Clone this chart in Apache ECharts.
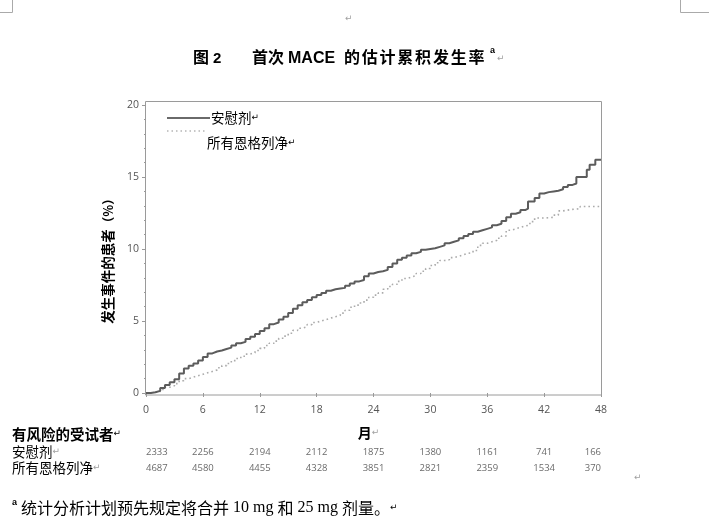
<!DOCTYPE html>
<html><head><meta charset="utf-8">
<script src="https://cdn.jsdelivr.net/npm/echarts@6/dist/echarts.min.js"></script>
<style>html,body{margin:0;padding:0;background:#fff}#c{width:709px;height:527px}</style>
</head><body><div id="c"></div>
<script>
// ---- data ----
const xTicks = [0, 6, 12, 18, 24, 30, 36, 42, 48];
const yTicks = [0, 5, 10, 15, 20];
const seriesNames = ['安慰剂', '所有恩格列净'];
const placeboCurve = [[0,0],[0.5,0.05],[1,0.15],[1.5,0.35],[2,0.55],[2.5,0.75],[3,0.95],[3.5,1.35],[4,1.7],[4.5,1.9],[5,2.05],[5.5,2.25],[6,2.5],[6.5,2.75],[7,2.88],[7.5,2.95],[8,3.05],[8.5,3.15],[9,3.3],[9.5,3.45],[10,3.55],[10.5,3.75],[11,3.9],[11.5,4.1],[12,4.3],[12.5,4.5],[13,4.78],[13.5,4.9],[14,5.1],[14.5,5.3],[15,5.55],[15.5,5.85],[16,6.1],[16.5,6.3],[17,6.45],[17.5,6.65],[18,6.8],[18.5,6.95],[19,7.1],[19.5,7.2],[20,7.25],[20.5,7.3],[21,7.45],[21.5,7.6],[22,7.75],[22.5,7.85],[23,8.1],[23.5,8.3],[24,8.4],[24.5,8.45],[25,8.55],[25.5,8.75],[26,9.0],[26.5,9.25],[27,9.4],[27.5,9.55],[28,9.7],[28.5,9.8],[29,9.95],[29.5,10.0],[30,10.05],[30.5,10.15],[31,10.25],[31.5,10.4],[32,10.5],[32.5,10.6],[33,10.75],[33.5,10.9],[34,11.05],[34.5,11.2],[35,11.3],[35.5,11.4],[36,11.5],[36.5,11.65],[37,11.75],[37.5,11.95],[38,12.2],[38.5,12.45],[39,12.55],[39.5,12.7],[40,12.8],[40.3,13.3],[41,13.55],[41.5,13.85],[42,13.95],[42.5,14.0],[43,14.05],[43.5,14.15],[44,14.3],[44.5,14.45],[45,14.55],[45.4,15.0],[46.5,15.5],[46.8,15.85],[47.4,16.2],[48,16.2]];
const ertuCurve = [[0,0],[0.5,0.05],[1,0.1],[1.5,0.25],[2,0.4],[2.5,0.5],[3,0.65],[3.5,0.85],[4,1.0],[4.5,1.1],[5,1.2],[5.5,1.3],[6,1.4],[6.5,1.5],[7,1.6],[7.5,1.75],[8,1.9],[8.5,2.05],[9,2.25],[9.5,2.4],[10,2.55],[10.5,2.7],[11,2.8],[11.5,2.95],[12,3.1],[12.5,3.3],[13,3.45],[13.5,3.6],[14,3.8],[14.5,3.95],[15,4.15],[15.5,4.35],[16,4.5],[16.5,4.6],[17,4.75],[17.5,4.9],[18,5.0],[18.5,5.1],[19,5.2],[19.5,5.3],[20,5.4],[20.5,5.55],[21,5.75],[21.5,5.95],[22,6.1],[22.5,6.25],[23,6.45],[23.5,6.65],[24,6.8],[24.5,6.95],[25,7.2],[25.5,7.4],[26,7.55],[26.5,7.75],[27,7.95],[27.5,8.05],[28,8.15],[28.5,8.3],[29,8.45],[29.5,8.65],[30,8.85],[30.5,9.05],[31,9.2],[31.5,9.25],[32,9.4],[32.5,9.5],[33,9.6],[33.5,9.7],[34,9.75],[34.5,9.9],[35,10.25],[35.5,10.4],[36,10.5],[36.5,10.6],[37,10.75],[37.5,10.9],[38,11.3],[38.5,11.4],[39,11.5],[39.5,11.6],[40,11.65],[40.5,11.9],[41,12.15],[42,12.2],[43,12.35],[43.5,12.65],[44,12.75],[45,12.8],[45.8,12.95],[48,12.95]];
const atRiskMonths = [0, 6, 12, 18, 24, 30, 36, 42, 48];
const placeboAtRisk = [2333, 2256, 2194, 2112, 1875, 1380, 1161, 741, 166];
const ertuAtRisk = [4687, 4580, 4455, 4328, 3851, 2821, 2359, 1534, 370];

// ---- chart ----
const CJK = '"Noto Sans CJK SC", "Noto Sans", sans-serif';
const LAT = '"Liberation Sans", Arial, sans-serif';
const SERIF = '"Liberation Serif", "DejaVu Serif", serif';
const MARK = '#a0a0a0';
const chart = echarts.init(document.getElementById('c'), null, {renderer: 'canvas'});

function atRiskData(vals, row) {
  return atRiskMonths.map((m, i) => ({
    value: [m, row, vals[i]],
    label: {align: i === 0 ? 'left' : (i === atRiskMonths.length - 1 ? 'right' : 'center')}
  }));
}
function spaced(str, key) { return str.split('').map(ch => '{' + key + '|' + ch + '}').join(''); }

const option = {
  animation: false,
  backgroundColor: '#fff',
  grid: [
    {left: 146, right: 108, top: 105, bottom: 134},
    {left: 146, right: 108, top: 444, height: 32}
  ],
  xAxis: [
    {type: 'value', gridIndex: 0, min: 0, max: 48, interval: 6, offset: 2,
     name: '{b|月}{m|↵}', nameLocation: 'middle', nameGap: 31,
     nameTextStyle: {padding: [0, 10, 0, 0], rich: {b: {fontFamily: CJK, fontWeight: 'bold', fontSize: 14, color: '#000'}, m: {fontFamily: '"DejaVu Sans"', fontSize: 9, color: MARK}}},
     axisLine: {show: false},
     axisTick: {show: true, length: 4, lineStyle: {color: '#999'}},
     axisLabel: {color: '#555', fontSize: 10.5, fontFamily: '"Open Sans", sans-serif', margin: 10},
     splitLine: {show: false}},
    {type: 'value', gridIndex: 1, min: 0, max: 48, show: false}
  ],
  yAxis: [
    {type: 'value', gridIndex: 0, min: 0, max: 20, interval: 5, offset: 1,
     axisLine: {show: false},
     axisTick: {show: true, length: 4, lineStyle: {color: '#999'}},
     minorTick: {show: true, splitNumber: 5, length: 2, lineStyle: {color: '#999'}},
     axisLabel: {color: '#555', fontSize: 10.5, fontFamily: '"Open Sans", sans-serif', margin: 6},
     splitLine: {show: false}, minorSplitLine: {show: false}},
    {type: 'category', gridIndex: 1, inverse: true, data: seriesNames,
     axisLine: {show: false}, axisTick: {show: false},
     axisLabel: {align: 'left', margin: 134, formatter: v => '{t|' + v + '}{m|↵}',
       rich: {t: {fontFamily: CJK, fontSize: 13.5, color: '#000'}, m: {fontFamily: '"DejaVu Sans"', fontSize: 9, color: MARK}}}}
  ],
  series: [
    {name: seriesNames[0], type: 'line', xAxisIndex: 0, yAxisIndex: 0, step: 'end', showSymbol: false, symbol: 'none',
     data: placeboCurve, lineStyle: {color: '#5c5c5c', width: 2}, z: 3},
    {name: seriesNames[1], type: 'line', xAxisIndex: 0, yAxisIndex: 0, step: 'end', showSymbol: false, symbol: 'none',
     data: ertuCurve, lineStyle: {color: '#ababab', width: 1.6, type: [1.6, 3]}, z: 2},
    {type: 'scatter', xAxisIndex: 1, yAxisIndex: 1, symbolSize: 0, silent: true,
     data: atRiskData(placeboAtRisk, 0),
     label: {show: true, position: 'inside', formatter: p => String(p.value[2]), color: '#444', fontSize: 9.5, fontFamily: '"Open Sans", sans-serif'}},
    {type: 'scatter', xAxisIndex: 1, yAxisIndex: 1, symbolSize: 0, silent: true,
     data: atRiskData(ertuAtRisk, 1),
     label: {show: true, position: 'inside', formatter: p => String(p.value[2]), color: '#444', fontSize: 9.5, fontFamily: '"Open Sans", sans-serif'}}
  ],
  graphic: [
    // page corner marks
    {type: 'polyline', shape: {points: [[0, 12.5], [12.5, 12.5], [12.5, 0]]}, style: {stroke: '#aaa', lineWidth: 1, fill: null}},
    {type: 'polyline', shape: {points: [[680.5, 0], [680.5, 12.5], [709, 12.5]]}, style: {stroke: '#aaa', lineWidth: 1, fill: null}},
    {type: 'text', left: 345, top: 14, style: {text: '↵', font: '9px "DejaVu Sans"', fill: MARK}},
    // title
    {type: 'text', x: 193, y: 57, style: {text: '图', font: 'bold 16px ' + CJK, fill: '#000', textVerticalAlign: 'middle'}},
    {type: 'text', x: 213, y: 58.5, style: {text: '2', font: 'bold 15px ' + LAT, fill: '#000', textVerticalAlign: 'middle'}},
    {type: 'text', x: 252, y: 57, style: {text: '首次', font: 'bold 16px ' + CJK, fill: '#000', textVerticalAlign: 'middle'}},
    {type: 'text', x: 288, y: 58.5, style: {text: 'MACE', font: 'bold 16px ' + LAT, fill: '#000', textVerticalAlign: 'middle'}},
    {type: 'text', x: 343, y: 57, style: {text: spaced('的估计累积发生率', 'c'), textVerticalAlign: 'middle',
      rich: {c: {fontFamily: CJK, fontWeight: 'bold', fontSize: 16, color: '#000', padding: [0, 0.9, 0, 0.9]}}}},
    {type: 'text', x: 490, y: 51, style: {text: 'a', font: 'bold 9px ' + LAT, fill: '#000', textVerticalAlign: 'middle'}},
    {type: 'text', x: 497, y: 59, style: {text: '↵', font: '9px "DejaVu Sans"', fill: MARK, textVerticalAlign: 'middle'}},
    // y-axis title
    {type: 'text', x: 108, y: 258, rotation: Math.PI / 2,
     style: {text: '{b|发生事件的患者}{p|（%）}', align: 'center', verticalAlign: 'middle',
      rich: {b: {fontFamily: CJK, fontWeight: 'bold', fontSize: 13.5, color: '#000'}, p: {fontFamily: CJK, fontWeight: 'bold', fontSize: 12.5, color: '#000'}}}},
    // plot frame
    {type: 'rect', shape: {x: 145.5, y: 101.5, width: 456, height: 293.5}, style: {fill: null, stroke: '#9a9a9a', lineWidth: 1}, z: 1},
    // legend inside plot
    {type: 'line', shape: {x1: 167, y1: 118, x2: 210, y2: 118}, style: {stroke: '#6a6a6a', lineWidth: 2}},
    {type: 'text', x: 211, y: 118, style: {text: '{t|安慰剂}{m|↵}', textVerticalAlign: 'middle',
      rich: {t: {fontFamily: CJK, fontSize: 13.5, color: '#000'}, m: {fontFamily: '"DejaVu Sans"', fontSize: 9, color: MARK}}}},
    {type: 'line', shape: {x1: 167, y1: 131, x2: 205, y2: 131}, style: {stroke: '#b5b5b5', lineWidth: 1.5, lineDash: [1.5, 3]}},
    {type: 'text', x: 207, y: 143, style: {text: '{t|所有恩格列净}{m|↵}', textVerticalAlign: 'middle',
      rich: {t: {fontFamily: CJK, fontSize: 13.5, color: '#000'}, m: {fontFamily: '"DejaVu Sans"', fontSize: 9, color: MARK}}}},
    // at-risk header
    {type: 'text', x: 12, y: 434, style: {text: '{t|有风险的受试者}{m|↵}', textVerticalAlign: 'middle',
      rich: {t: {fontFamily: CJK, fontWeight: 'bold', fontSize: 14.5, color: '#000'}, m: {fontFamily: '"DejaVu Sans"', fontSize: 9, color: MARK}}}},
    {type: 'text', x: 634, y: 478, style: {text: '↵', font: '9px "DejaVu Sans"', fill: MARK, textVerticalAlign: 'middle'}},
    // footnote
    {type: 'text', x: 12, y: 503, style: {text: 'a', font: 'bold 9px ' + LAT, fill: '#000', textVerticalAlign: 'middle'}},
    {type: 'text', x: 21, y: 508, style: {text: '{c|统计分析计划预先规定将合并}{s| 10 mg }{c|和}{s| 25 mg }{c|剂量。}{m|↵}', textVerticalAlign: 'middle',
      rich: {c: {fontFamily: CJK, fontSize: 16, color: '#000'}, s: {fontFamily: SERIF, fontSize: 16, color: '#000'}, m: {fontFamily: '"DejaVu Sans"', fontSize: 9, color: MARK}}}}
  ]
};
chart.setOption(option);
</script>
</body></html>
